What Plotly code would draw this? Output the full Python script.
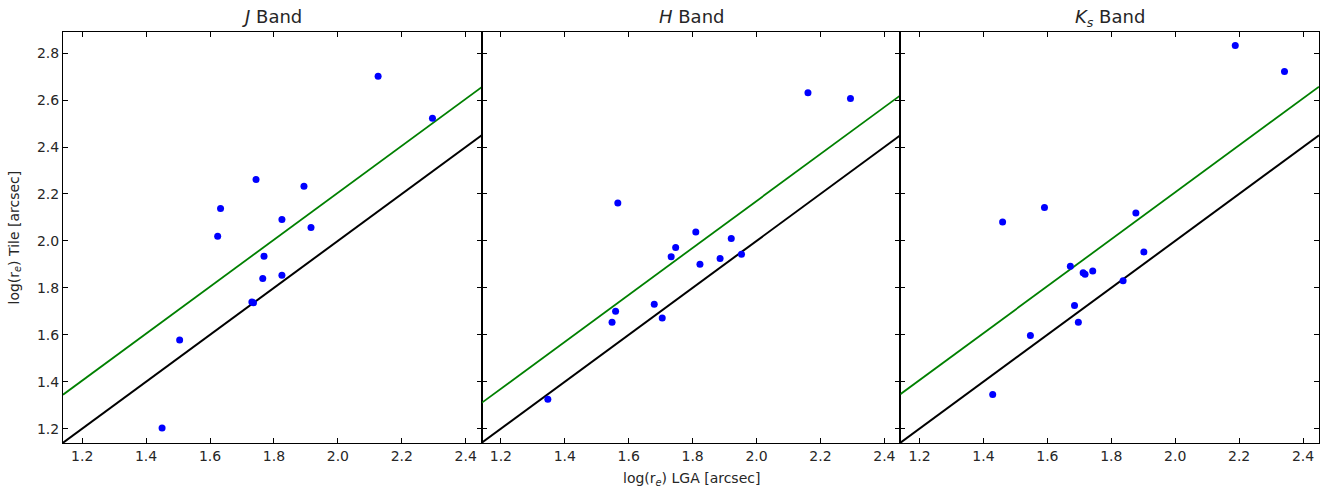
import plotly.graph_objects as go

# ---- data ----
bands = ["J", "H", "Ks"]
titles = ["<i>J</i> Band", "<i>H</i> Band", "<i>K<sub>s</sub></i> Band"]

j_lga = [2.126, 2.296, 1.744, 1.894, 1.633, 1.825, 1.916, 1.624, 1.769, 1.765, 1.825, 1.731, 1.736, 1.505, 1.450]
j_tile = [2.702, 2.523, 2.262, 2.233, 2.138, 2.091, 2.057, 2.020, 1.935, 1.840, 1.854, 1.740, 1.736, 1.578, 1.203]

h_lga = [2.161, 2.294, 1.566, 1.810, 1.921, 1.747, 1.733, 1.823, 1.886, 1.953, 1.680, 1.559, 1.548, 1.705, 1.347]
h_tile = [2.631, 2.607, 2.162, 2.038, 2.010, 1.972, 1.933, 1.901, 1.925, 1.943, 1.730, 1.700, 1.653, 1.672, 1.325]

k_lga = [2.188, 2.342, 1.460, 1.591, 1.877, 1.902, 1.672, 1.712, 1.718, 1.742, 1.837, 1.685, 1.697, 1.547, 1.429]
k_tile = [2.832, 2.722, 2.081, 2.142, 2.119, 1.953, 1.892, 1.864, 1.858, 1.872, 1.830, 1.725, 1.653, 1.597, 1.346]

# offsets of the green fit line (y = x + offset); black line is y = x
fit_offsets = [0.205, 0.170, 0.207]

x_range = [1.14, 2.45]
y_range = [1.139, 2.89]
x_ticks = [1.2, 1.4, 1.6, 1.8, 2.0, 2.2, 2.4]
y_ticks = [1.2, 1.4, 1.6, 1.8, 2.0, 2.2, 2.4, 2.6, 2.8]

series = [(j_lga, j_tile), (h_lga, h_tile), (k_lga, k_tile)]

FONT = "DejaVu Sans"
TXT = "#262626"

fig = go.Figure()
for i, (xs, ys) in enumerate(series):
    xa = "x" if i == 0 else f"x{i+1}"
    ya = "y" if i == 0 else f"y{i+1}"
    lx = list(x_range)
    fig.add_trace(go.Scatter(x=lx, y=lx, mode="lines", line=dict(color="black", width=2),
                             xaxis=xa, yaxis=ya, showlegend=False, hoverinfo="skip"))
    fig.add_trace(go.Scatter(x=lx, y=[v + fit_offsets[i] for v in lx], mode="lines",
                             line=dict(color="#008000", width=1.8),
                             xaxis=xa, yaxis=ya, showlegend=False, hoverinfo="skip"))
    fig.add_trace(go.Scatter(x=xs, y=ys, mode="markers",
                             marker=dict(color="#0000ff", size=7, line=dict(width=0)),
                             xaxis=xa, yaxis=ya, showlegend=False, name=bands[i]))

axis_common = dict(
    showgrid=False, zeroline=False, showline=True, linecolor="black", linewidth=1,
    mirror="ticks", ticks="inside", ticklen=5, tickwidth=1, tickcolor="black",
    tickfont=dict(family=FONT, size=14, color=TXT),
)

layout = dict(
    width=1330, height=490,
    margin=dict(l=63, r=11, t=32, b=47),
    paper_bgcolor="white", plot_bgcolor="white",
    font=dict(family=FONT, color=TXT),
    showlegend=False,
)
fig.update_layout(**layout)

annotations = []
for i in range(3):
    d0, d1 = i / 3, (i + 1) / 3
    xkey = "xaxis" if i == 0 else f"xaxis{i+1}"
    ykey = "yaxis" if i == 0 else f"yaxis{i+1}"
    xanchor = "y" if i == 0 else f"y{i+1}"
    yanchor = "x" if i == 0 else f"x{i+1}"
    fig.layout[xkey] = dict(axis_common, domain=[d0, d1], range=x_range, tickvals=x_ticks,
                            ticktext=[f"{v:.1f}" for v in x_ticks], anchor=xanchor)
    fig.layout[ykey] = dict(axis_common, domain=[0, 1], range=y_range, tickvals=y_ticks,
                            ticktext=[f"{v:.1f}" for v in y_ticks], anchor=yanchor,
                            showticklabels=(i == 0))
    annotations.append(dict(text=titles[i], x=(d0 + d1) / 2, y=1, xref="paper", yref="paper",
                            xanchor="center", yanchor="bottom", yshift=(0 if i == 2 else 3),
                            showarrow=False, font=dict(family=FONT, size=18, color=TXT)))

annotations.append(dict(text="log(r<sub><i>e</i></sub>) LGA [arcsec]", x=0.5, y=0, xref="paper",
                        yref="paper", xanchor="center", yanchor="top", yshift=-25, showarrow=False,
                        font=dict(family=FONT, size=14, color=TXT)))
annotations.append(dict(text="log(r<sub><i>e</i></sub>) Tile [arcsec]", x=0, y=0.5, xref="paper",
                        yref="paper", xanchor="right", yanchor="middle", xshift=-38, textangle=-90,
                        showarrow=False, font=dict(family=FONT, size=14, color=TXT)))
fig.update_layout(annotations=annotations)

# remove the default 8px page margin so the figure fills the 1330x490 window exactly
fig.write_html("out.html", config={"displayModeBar": False},
               post_script="document.body.style.margin='0';")
